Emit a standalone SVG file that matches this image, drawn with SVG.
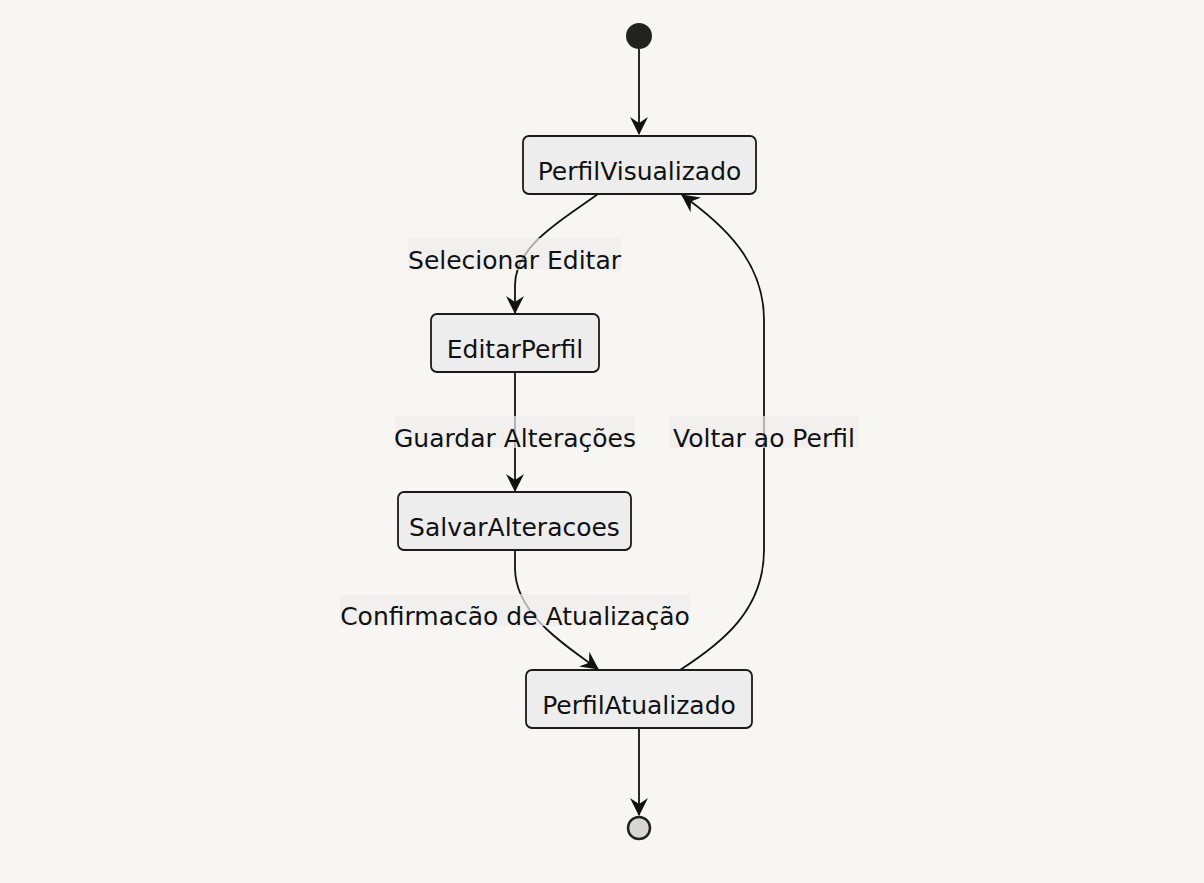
<svg xmlns="http://www.w3.org/2000/svg" width="1204" height="883" viewBox="0 0 1204 883">
<style>
.bg{fill:#f7f6f3}
.node rect{fill:#ededed;stroke:#1a1a1a;stroke-width:1.8}
.node text{font-family:"DejaVu Sans",sans-serif;font-size:25px;fill:#111;text-anchor:middle}
.edge{fill:none;stroke:#111;stroke-width:1.8}
.lbl rect{fill:#eeeeec;opacity:0.7}
.lbl text{font-family:"DejaVu Sans",sans-serif;font-size:25px;fill:#111;text-anchor:middle}
</style>
<defs>
<marker id="arr" viewBox="0 0 18 20" refX="17" refY="10" markerWidth="18" markerHeight="20" markerUnits="userSpaceOnUse" orient="auto">
<path d="M0,1 L18,10 L0,19 L6,10 z" fill="#111"/>
</marker>
</defs>
<rect class="bg" x="0" y="0" width="1204" height="883"/>
<g id="connectors">
<path class="edge" d="M639,49 L639,134" marker-end="url(#arr)"/>
<path class="edge" d="M598,194 C565,218 515,245 515,285 L515,313" marker-end="url(#arr)"/>
<path class="edge" d="M515,372 L515,491" marker-end="url(#arr)"/>
<path class="edge" d="M515,550 L515,568 C515,612 560,642 598,669" marker-end="url(#arr)"/>
<path class="edge" d="M680,670 C722,643 764,610 764,550 L764,320 C764,262 724,225 682,195" marker-end="url(#arr)"/>
<path class="edge" d="M639,728 L639,815" marker-end="url(#arr)"/>
</g>
<g id="labels">
<g class="lbl"><rect x="408" y="238" width="213" height="32"/><text x="514.5" y="269">Selecionar Editar</text></g>
<g class="lbl"><rect x="395" y="416" width="240" height="32"/><text x="515" y="447">Guardar Alterações</text></g>
<g class="lbl"><rect x="670" y="416" width="188" height="32"/><text x="764" y="447">Voltar ao Perfil</text></g>
<g class="lbl"><rect x="340" y="594" width="350" height="32"/><text x="515" y="625">Confirmacão de Atualização</text></g>
</g>
<g id="start"><circle cx="639" cy="36" r="13" fill="#222"/></g>
<g id="PerfilVisualizado" class="node"><rect x="523" y="136" width="233" height="58" rx="6"/><text x="639.5" y="180">PerfilVisualizado</text></g>
<g id="EditarPerfil" class="node"><rect x="431" y="314" width="168" height="58" rx="6"/><text x="515" y="358">EditarPerfil</text></g>
<g id="SalvarAlteracoes" class="node"><rect x="398" y="492" width="233" height="58" rx="6"/><text x="514.5" y="536">SalvarAlteracoes</text></g>
<g id="PerfilAtualizado" class="node"><rect x="526" y="670" width="226" height="58" rx="6"/><text x="639" y="714">PerfilAtualizado</text></g>
<g id="end"><circle cx="639" cy="828" r="11" fill="#d6d6d6" stroke="#222" stroke-width="2.5"/></g>
</svg>
